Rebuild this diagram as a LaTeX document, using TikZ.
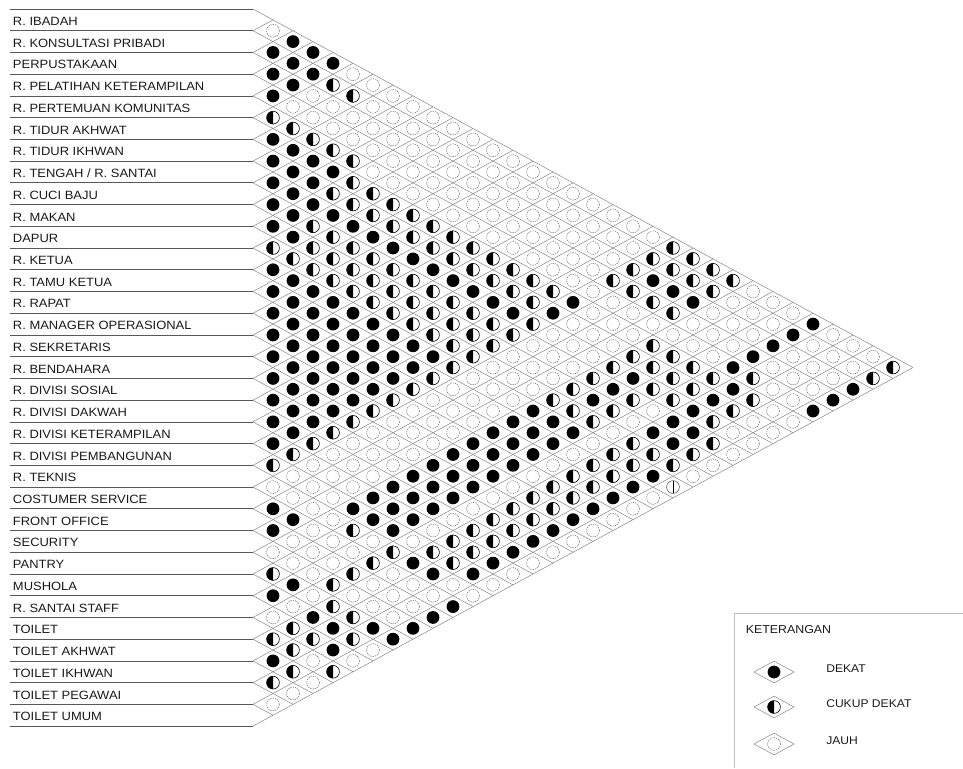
\documentclass[tikz,border=0pt]{standalone}
\usepackage{fontspec}
\setmainfont{Liberation Sans}
\newfontfamily\lblfont[FakeStretch=1.08]{Liberation Sans}
\newfontfamily\legfont[FakeStretch=1.08]{Liberation Sans}
\newcommand\setcol[2]{\expandafter\def\csname mycol#1\endcsname{#2}}
% columns c = j - i ; entries for i = 0 .. 32-c
\setcol{1}{J,D,D,D,C,D,D,D,D,D,C,D,D,D,D,D,D,D,D,D,C,J,D,D,J,C,D,J,C,D,C,J}
\setcol{2}{D,D,D,J,C,D,D,D,D,D,C,D,D,D,D,D,D,D,D,C,J,J,D,J,J,D,J,C,C,C,J}
\setcol{3}{D,D,J,J,C,D,D,D,C,C,C,D,D,D,D,D,D,D,C,J,J,J,J,J,J,J,D,C,J,J}
\setcol{4}{D,C,J,J,C,D,C,D,C,C,C,D,D,D,D,D,D,C,J,J,J,J,J,J,C,C,D,D,C}
\setcol{5}{J,C,J,J,C,C,C,D,C,C,C,D,D,D,D,D,C,J,J,J,D,C,J,C,J,C,C,J}
\setcol{6}{J,J,J,J,J,C,C,D,C,C,C,D,D,D,D,C,J,J,J,D,D,J,C,J,J,D,J}
\setcol{7}{J,J,J,J,J,C,C,D,C,C,C,D,D,D,C,J,J,J,D,D,D,C,J,J,J,D}
\setcol{8}{J,J,J,J,J,C,C,D,C,C,C,D,D,C,J,J,J,D,D,D,J,D,J,J,D}
\setcol{9}{J,J,J,J,J,C,C,D,C,C,C,D,C,J,J,J,D,D,D,J,C,D,J,D}
\setcol{10}{J,J,J,J,J,C,C,D,C,C,C,C,J,J,J,D,D,D,J,C,C,J,D}
\setcol{11}{J,J,J,J,J,C,C,D,C,C,C,J,J,J,D,D,D,J,C,C,D,J}
\setcol{12}{J,J,J,J,J,C,C,D,C,C,J,J,J,D,D,D,J,C,C,D,J}
\setcol{13}{J,J,J,J,J,C,C,D,C,J,J,J,D,D,D,J,C,C,D,J}
\setcol{14}{J,J,J,J,J,C,C,C,J,J,J,D,D,D,J,C,C,D,J}
\setcol{15}{J,J,J,J,J,C,D,J,J,J,C,D,D,J,C,C,D,J}
\setcol{16}{J,J,J,J,J,D,J,J,J,C,C,D,J,C,C,D,J}
\setcol{17}{J,J,J,J,J,J,J,J,C,D,C,J,C,C,D,J}
\setcol{18}{J,J,J,C,J,J,J,C,D,C,J,C,C,D,J}
\setcol{19}{J,J,C,C,J,J,C,D,C,J,C,C,D,J}
\setcol{20}{J,C,D,C,J,C,C,C,J,D,C,D,J}
\setcol{21}{C,C,D,C,J,C,C,C,D,D,C,V}
\setcol{22}{C,C,D,J,J,C,C,D,D,C,J}
\setcol{23}{C,C,J,J,J,C,D,C,C,J}
\setcol{24}{C,J,J,J,D,D,C,J,J}
\setcol{25}{J,J,J,D,C,C,J,J}
\setcol{26}{J,J,D,J,J,J,J}
\setcol{27}{J,D,J,J,J,J}
\setcol{28}{D,J,J,J,D}
\setcol{29}{J,J,J,D}
\setcol{30}{J,J,D}
\setcol{31}{J,C}
\setcol{32}{C}
\newcommand\cellD[2]{\fill[black] (#1,#2) circle[radius=4.8pt];}
\newcommand\cellC[2]{\begin{scope}[shift={(#1,#2)}]
  \fill[white] (0,0) circle[radius=4.8pt];
  \fill[black] (0,4.8pt) arc[start angle=90,end angle=270,radius=4.8pt] -- cycle;
  \draw[black,line width=0.45pt] (0,0) circle[radius=4.8pt];\end{scope}}
\newcommand\cellJ[2]{\draw[black!55,line width=0.4pt,dash pattern=on 1pt off 0.7pt] (#1,#2) circle[radius=4.8pt];}
\newcommand\cellV[2]{\begin{scope}[shift={(#1,#2)}]
  \draw[black!70,line width=0.4pt] (0,0) circle[radius=4.8pt];
  \draw[black,line width=0.6pt] (0,4.8pt) -- (0,-4.8pt);\end{scope}}
\begin{document}
\begin{tikzpicture}[x=0.75pt,y=-0.75pt,
  rowline/.style={draw=black!65,line width=0.55pt},
  lattice/.style={draw=black!50,line width=0.35pt},
  legline/.style={draw=black!25,line width=0.5pt},
  lbl/.style={anchor=base west,inner sep=0pt,font=\lblfont\fontsize{9pt}{10pt}\selectfont,text=black!90},
  legtext/.style={anchor=west,inner sep=0pt,font=\legfont\fontsize{8.4pt}{10pt}\selectfont,text=black!90}]
\useasboundingbox (0,0) rectangle (963,768);
% row labels and row lines
\foreach \t [count=\k from 0] in {R. IBADAH,R. KONSULTASI PRIBADI,PERPUSTAKAAN,R. PELATIHAN KETERAMPILAN,R. PERTEMUAN KOMUNITAS,R. TIDUR AKHWAT,R. TIDUR IKHWAN,R. TENGAH / R. SANTAI,R. CUCI BAJU,R. MAKAN,DAPUR,R. KETUA,R. TAMU KETUA,R. RAPAT,R. MANAGER OPERASIONAL,R. SEKRETARIS,R. BENDAHARA,R. DIVISI SOSIAL,R. DIVISI DAKWAH,R. DIVISI KETERAMPILAN,R. DIVISI PEMBANGUNAN,R. TEKNIS,COSTUMER SERVICE,FRONT OFFICE,SECURITY,PANTRY,MUSHOLA,R. SANTAI STAFF,TOILET,TOILET AKHWAT,TOILET IKHWAN,TOILET PEGAWAI,TOILET UMUM}
  {\node[lbl] (row\k) at (12.7,{9+21.73*\k+10.865+5.6}) {\t};}
\foreach \k in {0,...,33}{
  \coordinate (b\k) at (253,{9+21.73*\k});
  \coordinate (bl\k) at (10,{9+21.73*\k});
  \draw[rowline] (bl\k) -- (b\k);
}
% lattice of diamonds
\foreach \k in {0,...,33}{
  \draw[lattice] (b\k) -- ++({20*(33-\k)},{10.865*(33-\k)});
  \draw[lattice] (b\k) -- ++({20*\k},{-10.865*\k});
}
% cell symbols
\foreach \c in {1,...,32}{
  \edef\lst{\csname mycol\c\endcsname}
  \foreach \st [count=\i from 0] in \lst {
    \pgfmathsetmacro\cx{253+20*\c}
    \pgfmathsetmacro\cy{9+10.865*(2*\i+\c+1)}
    \csname cell\st\endcsname{\cx}{\cy}
  }
}
% legend
\coordinate (lgA) at (734,768);
\coordinate (lgB) at (734,613);
\coordinate (lgC) at (963,613);
\draw[legline] (lgA) -- (lgB) -- (lgC);
\node[legtext,font=\legfont\fontsize{8.6pt}{10pt}\selectfont] (ket) at (745.5,630) {KETERANGAN};
\foreach \yy/\st/\tx [count=\n] in {672/D/DEKAT,707/C/CUKUP DEKAT,744/J/JAUH}{
  \draw[lattice] (754,\yy) -- (774,{\yy-10.865}) -- (794,\yy) -- (774,{\yy+10.865}) -- cycle;
  \csname cell\st\endcsname{774}{\yy}
  \node[legtext] (leg\n) at (826,{\yy-3}) {\tx};
}
\end{tikzpicture}
\end{document}
